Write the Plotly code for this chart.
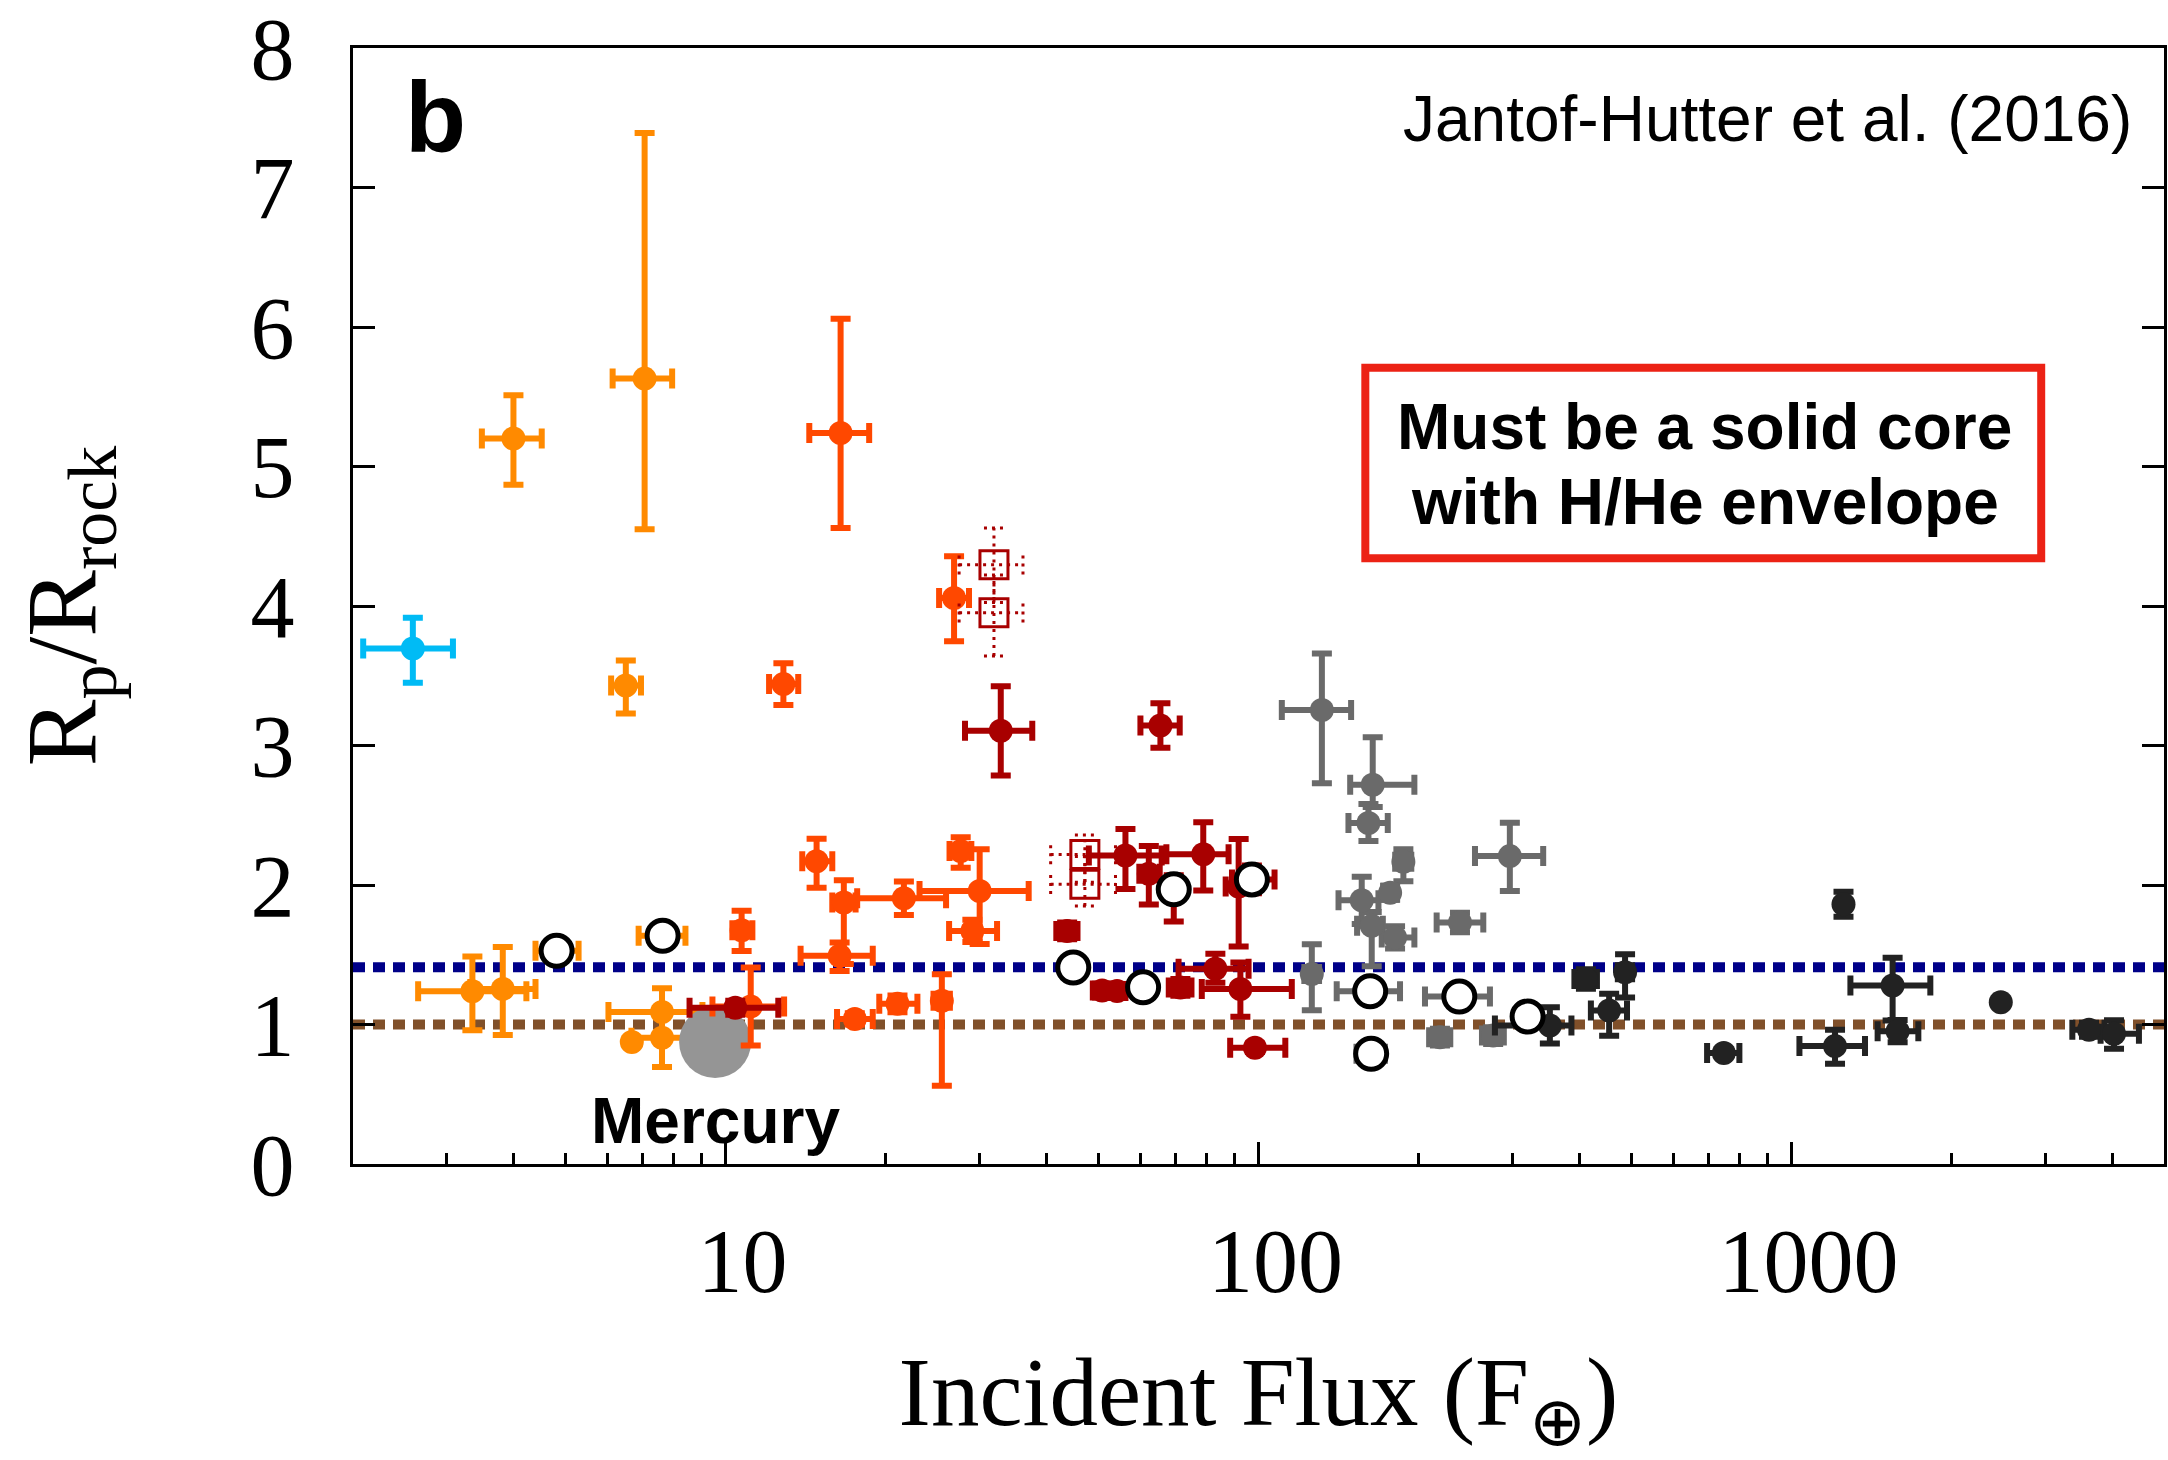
import math
import plotly.graph_objects as go

# ---------------- data ----------------
# cyan
cyan_x = [2.59]
cyan_y = [3.695]
cyan_xm = [0.50]
cyan_xp = [0.49]
cyan_ym = [0.245]
cyan_yp = [0.22]

# orange
orange_x = [4.00, 7.05, 6.50, 3.35, 3.82, 7.60, 7.60, 6.67, 4.82, 7.62]
orange_y = [5.20, 5.63, 3.43, 1.238, 1.255, 1.09, 0.905, 0.874, 1.528, 1.636]
orange_xm = [0.51, 0.91, 0.40, 0.70, 0.50, 1.57, 0.94, 0.0, 0.42, 0.75]
orange_xp = [0.52, 0.89, 0.44, 0.88, 0.58, 1.45, 0.81, 0.0, 0.48, 0.79]
orange_ym = [0.33, 1.08, 0.20, 0.28, 0.33, 0.17, 0.21, 0.0, 0.05, 0.05]
orange_yp = [0.31, 1.76, 0.18, 0.25, 0.30, 0.17, 0.20, 0.0, 0.05, 0.05]

# red-orange
ro_x = [16.44, 12.84, 26.84, 14.82, 16.67, 16.37, 10.72, 11.15, 17.48, 21.61, 29.98, 27.62, 29.05, 21.02, 25.46]
ro_y = [5.24, 3.44, 4.057, 2.171, 1.874, 1.493, 1.676, 1.129, 1.04, 1.905, 1.957, 2.243, 1.671, 1.148, 1.171]
ro_xm = [2.08, 0.77, 1.68, 0.89, 0.81, 2.54, 0.42, 1.70, 1.29, 3.95, 6.86, 1.3, 2.78, 1.59, 0.9]
ro_xp = [2.16, 0.85, 1.79, 1.04, 0.87, 2.52, 0.51, 1.73, 1.41, 4.32, 7.07, 1.3, 3.27, 1.89, 0.9]
ro_ym = [0.68, 0.15, 0.31, 0.19, 0.44, 0.11, 0.15, 0.28, 0.04, 0.12, 0.38, 0.12, 0.08, 0.06, 0.61]
ro_yp = [0.82, 0.15, 0.30, 0.16, 0.16, 0.095, 0.14, 0.28, 0.04, 0.12, 0.30, 0.10, 0.08, 0.06, 0.19]

# dark red
dr_x = [32.84, 65.46, 56.28, 62.26, 78.77, 69.34, 91.78, 97.18, 43.75, 50.88, 54.28, 71.36, 83.0, 92.47, 98.48, 10.43]
dr_y = [3.105, 3.143, 2.212, 2.08, 2.22, 1.969, 1.99, 2.04, 1.671, 1.243, 1.24, 1.266, 1.40, 1.255, 0.833, 1.12]
dr_xm = [4.70, 5.42, 8.23, 2.5, 11.6, 3.0, 5.0, 8.0, 2.0, 2.0, 2.0, 3.5, 12.2, 14.2, 10.0, 1.87]
dr_xp = [4.79, 5.69, 9.54, 3.0, 9.1, 3.0, 6.0, 10.0, 2.0, 2.0, 2.0, 3.5, 12.8, 23.0, 13.8, 2.13]
dr_ym = [0.32, 0.16, 0.24, 0.22, 0.26, 0.23, 0.43, 0.10, 0.06, 0.05, 0.05, 0.06, 0.10, 0.20, 0.03, 0.05]
dr_yp = [0.32, 0.16, 0.19, 0.20, 0.23, 0.10, 0.34, 0.10, 0.06, 0.05, 0.05, 0.06, 0.107, 0.19, 0.03, 0.05]

# dark red open squares (dotted error bars)
sq_x = [31.89, 31.89, 47.23, 47.23]
sq_y = [4.295, 3.952, 2.219, 2.005]
sq_xm = [4.46, 4.46, 6.49, 6.49]
sq_xp = [4.26, 4.26, 6.68, 6.68]
sq_ym = [0.27, 0.31, 0.20, 0.155]
sq_yp = [0.265, 0.27, 0.14, 0.20]

# gray
gr_x = [131.5, 163.8, 160.8, 187.0, 156.2, 176.6, 163.1, 180.4, 238.8, 296.2, 125.9, 162.0, 162.7, 238.1, 219.0, 275.6]
gr_y = [3.255, 2.719, 2.445, 2.167, 1.89, 1.945, 1.707, 1.624, 1.731, 2.207, 1.362, 1.238, 0.79, 1.20, 0.909, 0.921]
gr_xm = [20.9, 15.2, 13.3, 6.5, 14.9, 5.0, 10.0, 10.1, 22.9, 41.4, 4.0, 21.8, 10.0, 32.8, 10.0, 13.0]
gr_xp = [17.7, 32.3, 14.0, 6.5, 11.7, 5.0, 8.0, 15.7, 25.3, 45.9, 4.0, 22.3, 10.0, 33.7, 10.0, 13.0]
gr_ym = [0.525, 0.16, 0.13, 0.14, 0.17, 0.05, 0.29, 0.08, 0.07, 0.25, 0.26, 0.03, 0.03, 0.03, 0.06, 0.06]
gr_yp = [0.405, 0.34, 0.135, 0.09, 0.17, 0.05, 0.10, 0.08, 0.07, 0.24, 0.214, 0.03, 0.03, 0.03, 0.06, 0.06]

# near-black
dk_x = [1252, 411.5, 487.3, 454.9, 352.1, 746.5, 1548, 1207, 1582, 2470, 3616, 4029]
dk_y = [1.862, 1.326, 1.374, 1.10, 0.993, 0.795, 1.279, 0.845, 0.952, 1.16, 0.962, 0.933]
dk_xm = [0.0, 20.0, 15.0, 34.5, 74.4, 52.0, 258.0, 172.0, 131.0, 0.0, 251.0, 227.0]
dk_xp = [0.0, 20.0, 15.0, 36.5, 34.4, 52.0, 274.0, 167.0, 148.0, 0.0, 251.0, 458.0]
dk_ym = [0.09, 0.07, 0.18, 0.18, 0.13, 0.0, 0.25, 0.126, 0.08, 0.0, 0.05, 0.107]
dk_yp = [0.09, 0.07, 0.13, 0.12, 0.13, 0.0, 0.20, 0.117, 0.08, 0.0, 0.05, 0.097]

# open (white-filled) circles
oc_x = [4.82, 7.62, 44.92, 60.74, 69.34, 97.18, 162.0, 162.7, 238.1, 319.8]
oc_y = [1.528, 1.636, 1.409, 1.267, 1.969, 2.04, 1.238, 0.79, 1.20, 1.057]

# Mercury
merc_x = [9.56]
merc_y = [0.874]

# horizontal reference levels
level_envelope = 1.41
level_rock = 1.0

# axis ticks
x_major = [10, 100, 1000]
x_major_text = ["10", "100", "1000"]
x_range = [2, 5000]
y_range = [0, 8]
y_ticks = [0, 1, 2, 3, 4, 5, 6, 7, 8]

# ---------------- figure ----------------
fig = go.Figure()

SERIF = "Liberation Serif"
SANS = "Liberation Sans"

fig.add_shape(type="line", xref="paper", x0=0, x1=1, yref="y",
              y0=level_envelope, y1=level_envelope, layer="below",
              line=dict(color="#000088", width=10, dash="12px,8px"))
fig.add_shape(type="line", xref="paper", x0=0, x1=1, yref="y",
              y0=level_rock, y1=level_rock, layer="below",
              line=dict(color="#80502A", width=10, dash="12px,8px"))


def group(xs, ys, xm, xp, ym, yp, color):
    eb = dict(type="data", symmetric=False, color=color, thickness=6, width=10)
    return go.Scatter(
        x=xs, y=ys, mode="markers",
        marker=dict(color=color, size=24, line=dict(width=0)),
        error_x=dict(eb, array=xp, arrayminus=xm),
        error_y=dict(eb, array=yp, arrayminus=ym),
        hoverinfo="x+y",
    )


fig.add_trace(group(cyan_x, cyan_y, cyan_xm, cyan_xp, cyan_ym, cyan_yp, "#00BBF5"))
fig.add_trace(group(orange_x, orange_y, orange_xm, orange_xp, orange_ym, orange_yp, "#FF8A00"))
fig.add_trace(go.Scatter(x=merc_x, y=merc_y, mode="markers",
                         marker=dict(color="#959595", size=72, line=dict(width=0)),
                         hoverinfo="x+y"))
fig.add_trace(group(ro_x, ro_y, ro_xm, ro_xp, ro_ym, ro_yp, "#FF4800"))
fig.add_trace(group(dr_x, dr_y, dr_xm, dr_xp, dr_ym, dr_yp, "#A80000"))
fig.add_trace(group(gr_x, gr_y, gr_xm, gr_xp, gr_ym, gr_yp, "#6A6A6A"))
fig.add_trace(group(dk_x, dk_y, dk_xm, dk_xp, dk_ym, dk_yp, "#222222"))

# dotted error bars for the open squares
cap_f = 10 ** (10 / 534.0)  # ~10 px in log space
cap_h = 0.07
lx, ly = [], []
for x, y, xm, xp, ym, yp in zip(sq_x, sq_y, sq_xm, sq_xp, sq_ym, sq_yp):
    lx += [x, x, None, x - xm, x + xp, None]
    ly += [y - ym, y + yp, None, y, y, None]
    lx += [x / cap_f, x * cap_f, None, x / cap_f, x * cap_f, None]
    ly += [y - ym, y - ym, None, y + yp, y + yp, None]
    lx += [x - xm, x - xm, None, x + xp, x + xp, None]
    ly += [y - cap_h, y + cap_h, None, y - cap_h, y + cap_h, None]
fig.add_trace(go.Scatter(x=lx, y=ly, mode="lines",
                         line=dict(color="#A80000", width=3, dash="3px,5px"),
                         hoverinfo="skip"))
fig.add_trace(go.Scatter(x=sq_x, y=sq_y, mode="markers",
                         marker=dict(symbol="square-open", size=28, color="#A80000",
                                     line=dict(width=3, color="#A80000")),
                         hoverinfo="x+y"))

fig.add_trace(go.Scatter(x=oc_x, y=oc_y, mode="markers",
                         marker=dict(symbol="circle", size=31, color="white",
                                     line=dict(width=5, color="black")),
                         hoverinfo="x+y"))

minor_vals = [m * 10 ** e for e in range(0, 4) for m in range(2, 10)
              if x_range[0] <= m * 10 ** e <= x_range[1]]

fig.update_layout(
    width=2168, height=1460,
    margin=dict(l=353, r=1, t=44, b=296),
    paper_bgcolor="white", plot_bgcolor="white",
    showlegend=False,
    xaxis=dict(
        type="log",
        range=[math.log10(x_range[0]), math.log10(x_range[1])],
        tickmode="array", tickvals=x_major, ticktext=x_major_text,
        ticks="inside", ticklen=22, tickwidth=3, tickcolor="black",
        minor=dict(tickmode="array", tickvals=minor_vals, ticks="inside",
                   ticklen=11, tickwidth=3, tickcolor="black", showgrid=False),
        showline=True, linecolor="black", linewidth=3, mirror=True,
        showgrid=False, zeroline=False,
        tickfont=dict(family=SERIF, size=90, color="black"),
        ticklabelstandoff=17, ticklabelshift=17,
        ticklabeloverflow="allow",
        title=dict(text="Incident Flux (F<sub>⊕</sub>)",
                   font=dict(family=SERIF, size=97, color="black"), standoff=70),
    ),
    yaxis=dict(
        range=y_range, tickmode="array", tickvals=y_ticks,
        ticktext=[str(v) for v in y_ticks],
        ticks="inside", ticklen=22, tickwidth=3, tickcolor="black",
        showline=True, linecolor="black", linewidth=3, mirror="ticks",
        showgrid=False, zeroline=False,
        tickfont=dict(family=SERIF, size=88, color="black"),
        ticklabelstandoff=38, ticklabeloverflow="allow",
        title=dict(text="R<sub>p</sub>/R<sub>rock</sub>",
                   font=dict(family=SERIF, size=100, color="black"), standoff=122),
    ),
)

L, R, T, B = 353, 2167, 44, 1164


def px(X):
    return (X - L) / (R - L)


def py(Y):
    return (B - Y) / (B - T)


fig.add_annotation(text="<b>b</b>", xref="paper", yref="paper", x=px(403), y=py(113),
                   xanchor="left", yanchor="middle", showarrow=False,
                   font=dict(family=SANS, size=100, color="black"))
fig.add_annotation(text="Jantof-Hutter et al. (2016)", xref="paper", yref="paper",
                   x=px(2137), y=py(115), xanchor="right", yanchor="middle", showarrow=False,
                   font=dict(family=SANS, size=64, color="black"))
fig.add_shape(type="rect", xref="paper", yref="paper",
              x0=px(1367), x1=px(2044), y0=py(556), y1=py(365),
              line=dict(color="#EC2215", width=8), fillcolor="white")
fig.add_annotation(text="<b>Must be a solid core</b>", xref="paper", yref="paper",
                   x=px(1707), y=py(424), xanchor="center", yanchor="middle", showarrow=False,
                   font=dict(family=SANS, size=64, color="black"))
fig.add_annotation(text="<b>with H/He envelope</b>", xref="paper", yref="paper",
                   x=px(1707), y=py(500), xanchor="center", yanchor="middle", showarrow=False,
                   font=dict(family=SANS, size=64, color="black"))
fig.add_annotation(text="<b>Mercury</b>", xref="x", yref="y",
                   x=math.log10(merc_x[0]), y=0.307, xanchor="center", yanchor="middle",
                   showarrow=False, font=dict(family=SANS, size=64, color="black"))

fig.write_html("out.html")
